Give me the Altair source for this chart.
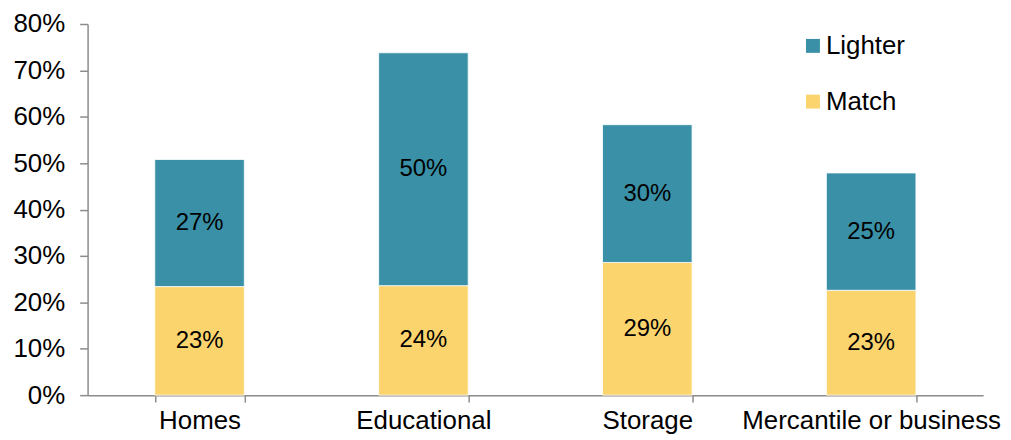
import altair as alt
import pandas as pd

categories = ["Homes", "Educational", "Storage", "Mercantile or business"]
match_vals = [0.234, 0.236, 0.286, 0.226]
lighter_vals = [0.274, 0.502, 0.297, 0.253]
series = ["Lighter", "Match"]
colors = ["#3A91A7", "#FCD46E"]

rows = []
for c, m, l in zip(categories, match_vals, lighter_vals):
    rows.append({"cat": c, "series": "Match", "value": m, "ord": 0})
    rows.append({"cat": c, "series": "Lighter", "value": l, "ord": 1})
df = pd.DataFrame(rows)

FONT = "Liberation Sans"
AXIS_COLOR = "#8C8C8C"

x_enc = alt.X("cat:N", sort=categories, title=None,
              scale=alt.Scale(paddingInner=0.6, paddingOuter=0.3),
              axis=alt.Axis(labelAngle=0, labelFontSize=26, labelFont=FONT, labelColor="#000000",
                            labelLimit=0,
                            tickBand="extent", tickSize=7, tickColor=AXIS_COLOR, tickWidth=1.5,
                            domainColor=AXIS_COLOR, domainWidth=1.5, labelPadding=6, grid=False))
y_scale = alt.Scale(domain=[0, 0.8], nice=False)

base = alt.Chart(df).transform_stack(
    stack="value", groupby=["cat"], as_=["y0", "y1"], sort=[alt.SortField("ord", order="ascending")]
).transform_calculate(mid="(datum.y0 + datum.y1) / 2")

bars = base.mark_bar(stroke="white", strokeWidth=0.8).encode(
    x=x_enc,
    y=alt.Y("y0:Q", scale=y_scale, title=None,
            axis=alt.Axis(format=".0%", values=[0, 0.1, 0.2, 0.3, 0.4, 0.5, 0.6, 0.7, 0.8],
                          labelFontSize=26, labelFont=FONT, labelColor="#000000",
                          tickSize=8, tickColor=AXIS_COLOR, tickWidth=1.5,
                          domainColor=AXIS_COLOR, domainWidth=1.5, labelPadding=15, grid=False)),
    y2="y1:Q",
    color=alt.Color("series:N", scale=alt.Scale(domain=series, range=colors),
                    legend=alt.Legend(title=None, orient="none", legendX=716, legendY=9,
                                      symbolType="square", symbolSize=196, symbolStrokeWidth=0,
                                      labelFontSize=26, labelFont=FONT, labelColor="#000000",
                                      rowPadding=30, labelOffset=0, padding=0)),
)

labels = base.mark_text(fontSize=24, font=FONT, color="#000000", baseline="middle").encode(
    x=alt.X("cat:N", sort=categories),
    y=alt.Y("mid:Q", scale=y_scale),
    text=alt.Text("value:Q", format=".0%"),
)

chart = alt.layer(bars, labels).properties(
    width=900, height=373,
    autosize=alt.AutoSizeParams(type="none"),
    padding={"left": 80, "top": 15, "right": 20, "bottom": 44},
).configure_view(stroke=None)

chart.save("out.html", embed_options={"renderer": "svg", "actions": False})
